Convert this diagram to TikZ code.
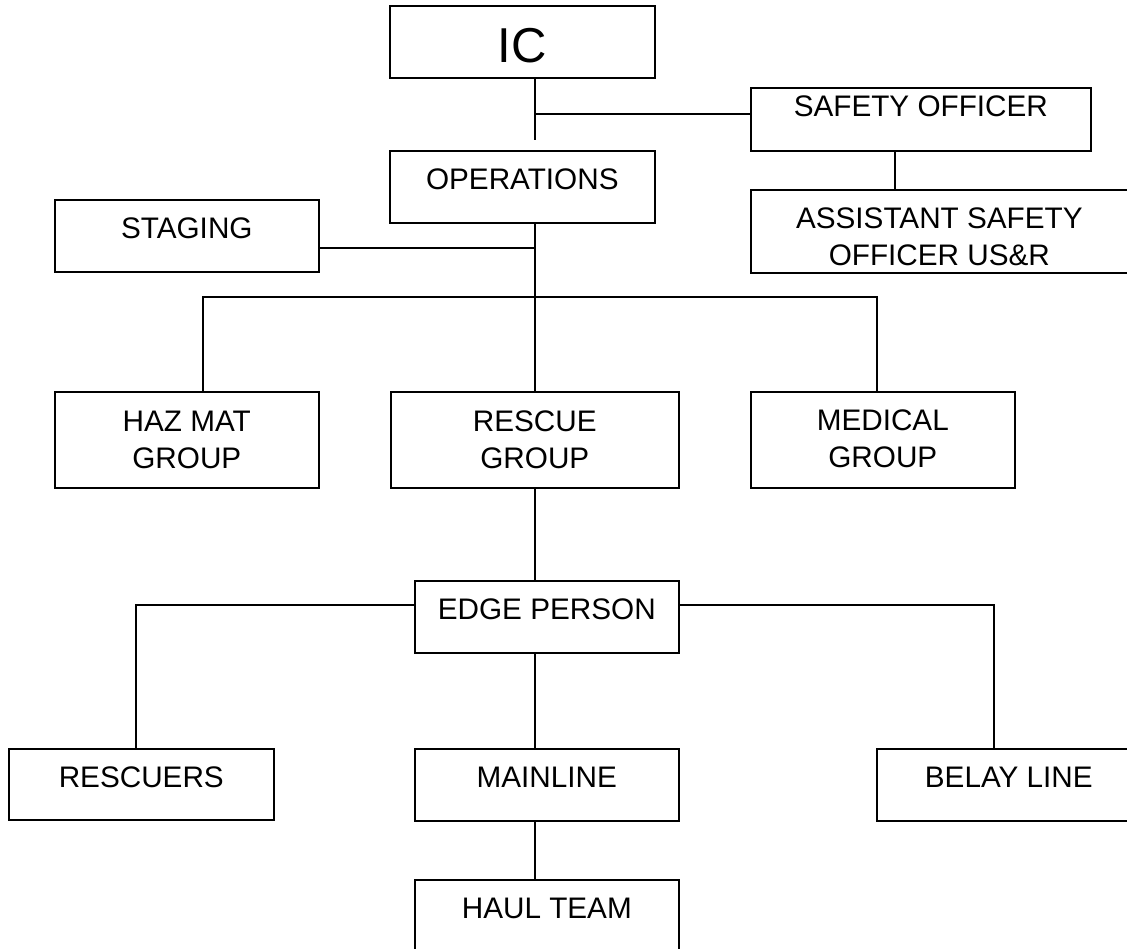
\documentclass[tikz,border=0pt]{standalone}
\usepackage{fontspec}
\setmainfont{Liberation Sans}
\usepackage{tikz}
\usetikzlibrary{positioning}
\newcommand{\chartfont}{\fontsize{29.7}{37}\selectfont}
\tikzset{post/.style={draw, rectangle, line width=1.6pt, inner sep=0pt, anchor=north west, align=center, minimum width=264pt, text height=38.5pt, text depth=33.5pt, font=\chartfont}}
\tikzstyle{wire}=[line width=1.4pt]

\begin{document}
\begin{tikzpicture}[x=1pt, y=-1pt]
\useasboundingbox (0,0) rectangle (1127,948);
% command staff
\node[post, minimum width=265pt, text height=57pt, text depth=15pt, font=\fontsize{49}{58}\selectfont] (ic) at (389,5) {IC};
\node[post, minimum width=340pt, text height=28.5pt, text depth=34.5pt] (safety) at (750,87) {SAFETY OFFICER};
\node[post, minimum width=377pt, text height=75.5pt, text depth=7.5pt] (assist) at (750,189) {ASSISTANT SAFETY\\OFFICER US\&R};
\node[post, minimum width=265pt] (ops) at (389,150) {OPERATIONS};
\node[post] (staging) at (54,199) {STAGING};
% groups
\node[post, text height=76.5pt, text depth=19.5pt] (hazmat) at (54,391) {HAZ MAT\\GROUP};
\node[post, minimum width=288pt, text height=76.5pt, text depth=19.5pt] (rescue) at (390,391) {RESCUE\\GROUP};
\node[post, text height=75.5pt, text depth=20.5pt] (medical) at (750,391) {MEDICAL\\GROUP};
% rope team
\node[post] (edge) at (414,580) {EDGE PERSON};
\node[post, minimum width=265pt, text depth=32.5pt] (rescuers) at (8,748) {RESCUERS};
\node[post] (mainline) at (414,748) {MAINLINE};
\node[post] (belay) at (876,748) {BELAY LINE};
\node[post] (haul) at (414,879) {HAUL TEAM};

\coordinate (bar) at (534,297);

\draw[wire] (ic.south -| rescue.north) -- ++(0,61) coordinate (icstub);
\draw[wire] ([yshift=5.5pt]safety.west) coordinate (sfw) -- (sfw -| icstub);
\draw[wire] ([xshift=-26pt]safety.south) coordinate (sfs) -- (sfs |- assist.north);
\draw[wire] (ops.south -| rescue.north) -- (rescue.north);
\draw[wire] ([yshift=-12pt]staging.east) coordinate (stg) -- (stg -| rescue.north);
\draw[wire] ([xshift=16pt]hazmat.north) |- (bar) -| ([xshift=-6pt]medical.north);
\draw[wire] (rescue.south) -- (rescue.south |- edge.north);
\draw[wire] ([yshift=12pt]edge.west) -| ([xshift=-5.5pt]rescuers.north);
\draw[wire] ([yshift=12pt]edge.east) -| ([xshift=-15pt]belay.north);
\draw[wire] (edge.south -| rescue.south) -- (mainline.north -| rescue.south);
\draw[wire] (mainline.south -| rescue.south) -- (haul.north -| rescue.south);
\end{tikzpicture}
\end{document}
